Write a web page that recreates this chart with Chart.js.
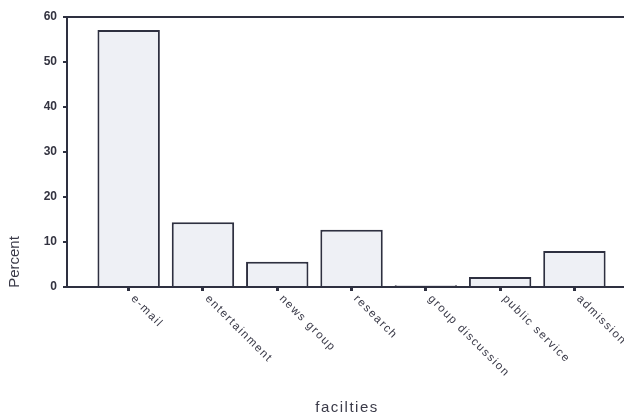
<!DOCTYPE html>
<html><head><meta charset="utf-8">
<script src="https://cdn.jsdelivr.net/npm/chart.js@4"></script>
<style>html,body{margin:0;padding:0;background:#fff;overflow:hidden;width:624px;height:416px}</style>
</head><body>
<canvas id="c" width="700" height="416" style="width:700px;height:416px;display:block"></canvas>
<script>
const categories = ['e-mail','entertainment','news group','research','group discussion','public service','admission'];
const percents = [57.1, 14.4, 5.6, 12.7, 0.4, 2.2, 8.0];
const yTicks = [0,10,20,30,40,50,60];
const xTitle = 'facilties';
const yTitle = 'Percent';

const ink = '#2e3040';
const textCol = '#3a3a48';

const deco = {
  id: 'deco',
  afterDraw(chart) {
    const ctx = chart.ctx, a = chart.chartArea, xs = chart.scales.x;
    ctx.save();
    ctx.strokeStyle = ink; ctx.lineWidth = 2;
    ctx.beginPath(); ctx.moveTo(a.left, a.top); ctx.lineTo(a.right, a.top); ctx.stroke();
    ctx.fillStyle = textCol;
    ctx.font = '11.5px "Liberation Sans", Arial, sans-serif';
    ctx.letterSpacing = '1.5px';
    ctx.textAlign = 'left'; ctx.textBaseline = 'middle';
    categories.forEach((c, i) => {
      const px = xs.getPixelForValue(i);
      ctx.save();
      ctx.translate(px + 4, a.bottom + 10);
      ctx.rotate(Math.PI / 4);
      ctx.fillText(c, 0, 0);
      ctx.restore();
    });
    ctx.font = '15px "Liberation Sans", Arial, sans-serif';
    ctx.letterSpacing = '1.5px';
    ctx.textAlign = 'center'; ctx.textBaseline = 'middle';
    ctx.fillText(xTitle, 347, 408);
    ctx.letterSpacing = '0px';
    ctx.save();
    ctx.translate(15, 262);
    ctx.rotate(-Math.PI / 2);
    ctx.fillText(yTitle, 0, 0);
    ctx.restore();
    ctx.restore();
  }
};

new Chart(document.getElementById('c'), {
  type: 'bar',
  data: {
    datasets: [{
      data: percents.map((v, i) => ({ x: i, y: v })),
      backgroundColor: '#eef0f5',
      borderColor: ink,
      borderWidth: 2,
      borderSkipped: 'start',
      barPercentage: 0.84,
      categoryPercentage: 1
    }]
  },
  options: {
    responsive: false,
    animation: false,
    layout: { padding: { top: 17, left: 0, right: 55, bottom: 0 } },
    plugins: { legend: { display: false }, tooltip: { enabled: false } },
    scales: {
      x: {
        type: 'linear',
        offset: false,
        min: -0.83,
        max: 6.95,
        afterBuildTicks: s => { s.ticks = categories.map((_, i) => ({ value: i })); },
        afterFit: s => { s.height = 129; },
        ticks: { display: false },
        grid: { display: true, offset: false, drawOnChartArea: false, drawTicks: true, tickLength: 4, lineWidth: 3, color: ink },
        border: { display: true, color: ink, width: 2 }
      },
      y: {
        min: 0,
        max: 60,
        afterBuildTicks: s => { s.ticks = yTicks.map(v => ({ value: v })); },
        afterFit: s => { s.width = 67; },
        ticks: { color: '#333340', font: { family: '"Liberation Sans", Arial, sans-serif', size: 12, weight: 'bold' }, padding: 6 },
        grid: { display: true, drawOnChartArea: false, drawTicks: true, tickLength: 4, lineWidth: 2, color: ink },
        border: { display: true, color: ink, width: 2 }
      }
    }
  },
  plugins: [deco]
});
</script>
</body></html>
